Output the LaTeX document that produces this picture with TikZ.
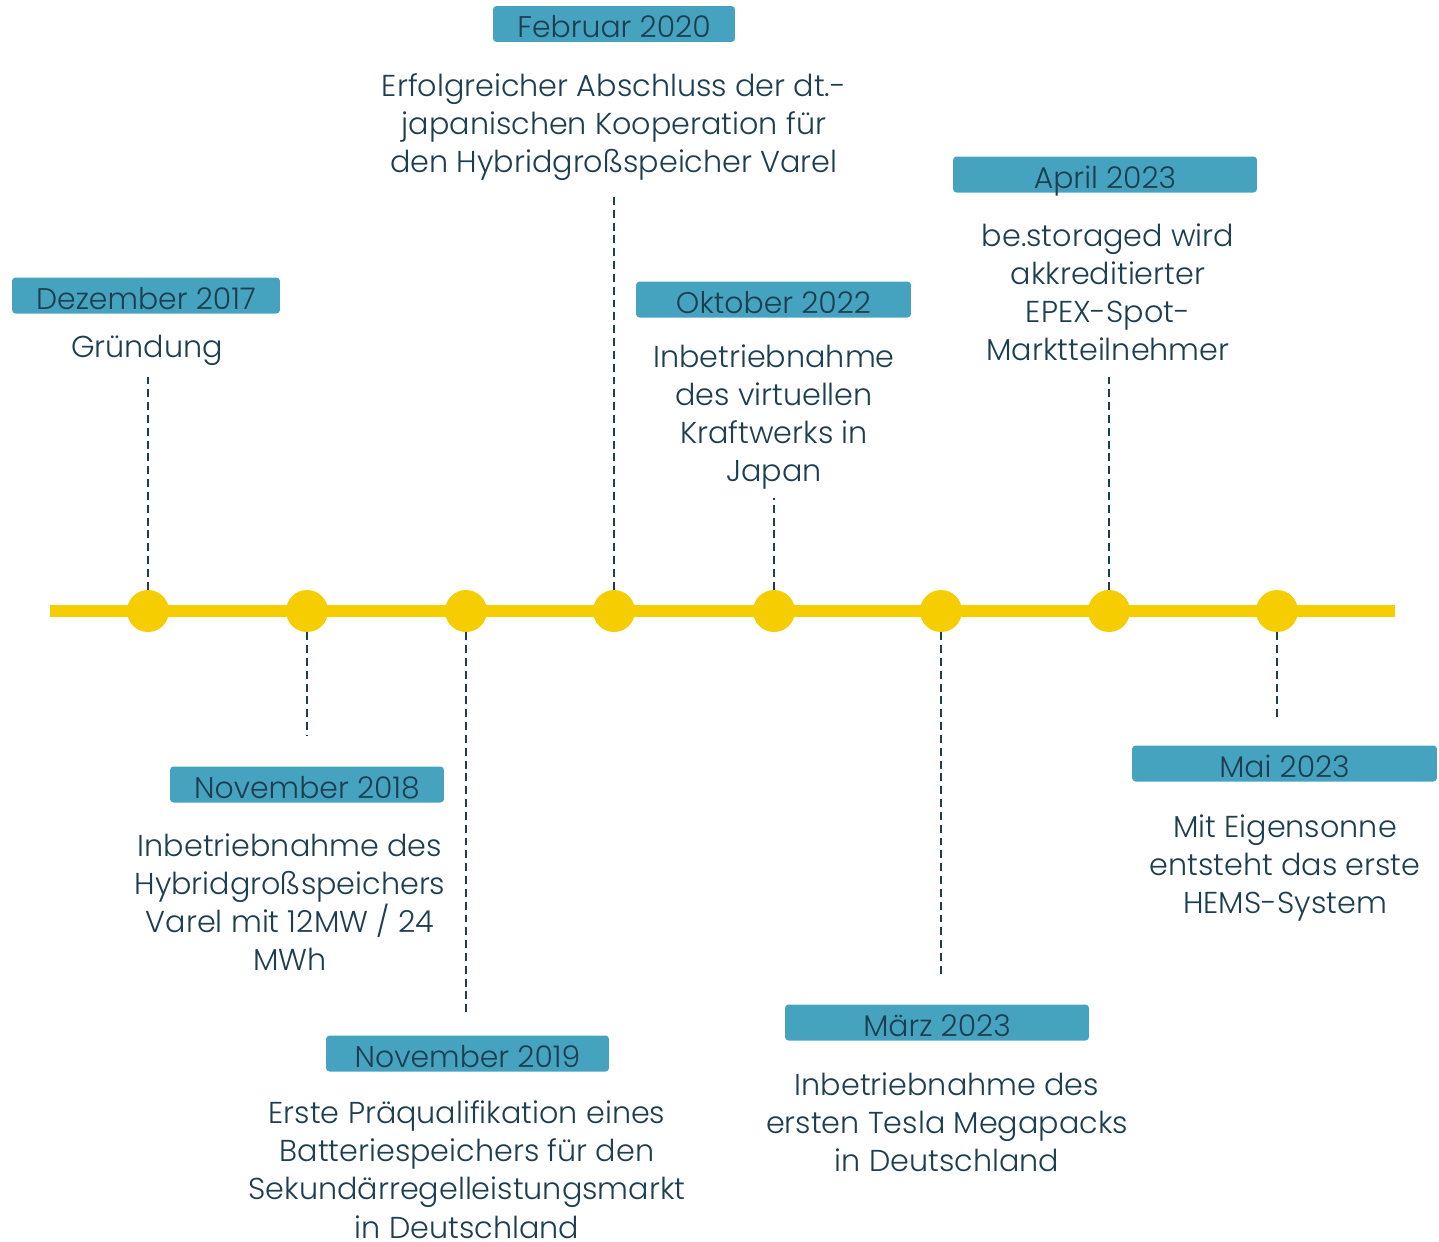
\documentclass[tikz,border=0pt]{standalone}
\usepackage{fontspec}
\setmainfont{Poppins}[UprightFont=* Light]
\definecolor{LineClr}{RGB}{245,205,0}
\definecolor{BoxClr}{RGB}{70,163,191}
\definecolor{TextClr}{RGB}{28,62,80}

\begin{document}
\begin{tikzpicture}[x=0.02cm,y=-0.02cm,
  dot/.style={circle,fill=LineClr,minimum size=0.84cm,inner sep=0pt},
  datebox/.style={fill=BoxClr,rounded corners=2pt,minimum height=0.72cm,inner sep=0pt,
    text height=16pt,text depth=0.6pt,text=TextClr,font=\fontsize{17}{20}\selectfont},
  desc/.style={align=center,inner sep=0pt,anchor=north,text=TextClr,
    font=\fontsize{17.2}{21.8}\selectfont},
  conn/.style={draw=TextClr,line width=1.1pt,dash pattern=on 4.5pt off 2.8pt}]
\useasboundingbox (0,0) rectangle (1439,1241);

% time line
\coordinate (start) at (50,611);
\coordinate (stop) at (1395,611);
\draw[LineClr,line width=0.24cm] (start) -- (stop);

\node[dot] (dotA) at (148,611) {};
\node[dot] (dotB) at (307,611) {};
\node[dot] (dotC) at (466,611) {};
\node[dot] (dotD) at (614,611) {};
\node[dot] (dotE) at (774,611) {};
\node[dot] (dotF) at (941,611) {};
\node[dot] (dotG) at (1109,611) {};
\node[dot] (dotH) at (1277,611) {};

% dates
\node[datebox,minimum width=5.36cm] (dateA) at (146,295.5) {Dezember 2017};
\node[datebox,minimum width=5.48cm] (dateB) at (307,784.5) {November 2018};
\node[datebox,minimum width=5.66cm] (dateC) at (467.5,1053.5) {November 2019};
\node[datebox,minimum width=4.84cm] (dateD) at (614,24) {Februar 2020};
\node[datebox,minimum width=5.50cm] (dateE) at (773.5,299.5) {Oktober 2022};
\node[datebox,minimum width=6.08cm] (dateF) at (937,1022.5) {März 2023};
\node[datebox,minimum width=6.08cm] (dateG) at (1105,174.5) {April 2023};
\node[datebox,minimum width=6.10cm] (dateH) at (1284.5,763.5) {Mai 2023};

% texts
\node[desc] (txtA) at (147,335) {Gründung};
\node[desc] (txtB) at (290,833) {Inbetriebnahme des\\Hybridgroßspeichers\\Varel mit 12MW / 24\\MWh};
\node[desc] (txtC) at (467,1100) {Erste Präqualifikation eines\\Batteriespeichers für den\\Sekundärregelleistungsmarkt\\in Deutschland};
\node[desc] (txtD) at (614,73) {Erfolgreicher Abschluss der dt.-\\japanischen Kooperation für\\den Hybridgroßspeicher Varel};
\node[desc] (txtE) at (774,344) {Inbetriebnahme\\des virtuellen\\Kraftwerks in\\Japan};
\node[desc] (txtF) at (947,1072) {Inbetriebnahme des\\ersten Tesla Megapacks\\in Deutschland};
\node[desc] (txtG) at (1108,223) {be.storaged wird\\akkreditierter\\EPEX-Spot-\\Marktteilnehmer};
\node[desc] (txtH) at (1285,814) {Mit Eigensonne\\entsteht das erste\\HEMS-System};

% dashed links
\coordinate (endA) at (148,375);
\coordinate (endB) at (307,735);
\coordinate (endC) at (466,1015);
\coordinate (endD) at (614,195);
\coordinate (endE) at (774,498);
\coordinate (endF) at (941,975);
\coordinate (endG) at (1109,377);
\coordinate (endH) at (1277,720);

\draw[conn] (dotA.north) -- (endA);
\draw[conn] (dotB.south) -- (endB);
\draw[conn] (dotC.south) -- (endC);
\draw[conn] (dotD.north) -- (endD);
\draw[conn] (dotE.north) -- (endE);
\draw[conn] (dotF.south) -- (endF);
\draw[conn] (dotG.north) -- (endG);
\draw[conn] (dotH.south) -- (endH);

\end{tikzpicture}
\end{document}
